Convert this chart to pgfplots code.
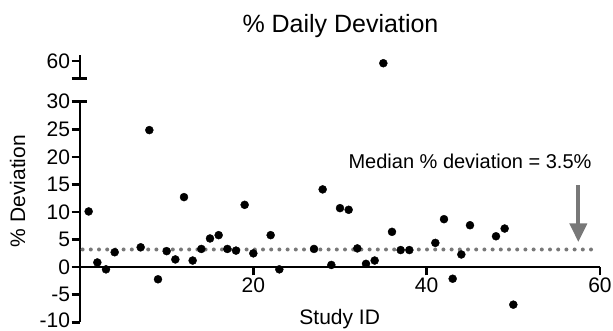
\documentclass[border=0pt]{standalone}
\usepackage{fontspec}
\setmainfont{Liberation Sans}
\usepackage{pgfplots}
\pgfplotsset{compat=1.18}
\usetikzlibrary{arrows.meta}
\definecolor{medgray}{RGB}{120,120,120}
\pgfplotsset{
  mystyle/.style={
    scale only axis, width=520pt,
    xmin=0, xmax=60,
    axis line style={-, line width=2.6pt},
    every inner x axis line/.append style={-, line width=2.6pt},
    every outer y axis line/.append style={-, line width=2.6pt},
    every outer x axis line/.append style={-, line width=2.6pt},
    tick style={black, line width=2.6pt},
    tick align=outside, major tick length=8.3pt,
    minor tick num=0,
    /pgf/number format/assume math mode=true,
    tick label style={font=\fontsize{21}{24}\selectfont},
    yticklabel style={inner xsep=1.5pt, inner ysep=0pt},
    xticklabel style={inner sep=2pt},
    clip=false,
  }
}
\begin{document}
\begin{tikzpicture}
\path[use as bounding box] (0,0) rectangle (613pt,331pt);
\begin{axis}[
  axis x line=middle, axis y line=left,
  mystyle,
  at={(80pt,8.7pt)}, anchor=south west,
  height=220.6pt,
  ymin=-10, ymax=30,
  xtick={20,40,60}, ytick={-5,0,...,30},
  extra y ticks={-10},
  extra y tick style={yticklabel style={yshift=2pt}},
]
\addplot[only marks, mark=*, mark size=4pt, black] coordinates {
(1,10.1) (2,0.85) (3,-0.4) (4,2.7) (7,3.6) (8,24.85) (9,-2.2) (10,2.9)
(11,1.4) (12,12.7) (13,1.2) (14,3.3) (15,5.2) (16,5.8) (17,3.3) (18,3.0)
(19,11.3) (20,2.5) (22,5.8) (23,-0.4) (27,3.3) (28,14.1) (29,0.4) (30,10.7)
(31,10.4) (32,3.4) (33,0.6) (34,1.2) (36,6.4) (37,3.1) (38,3.1) (41,4.4)
(42,8.7) (43,-2.1) (44,2.3) (45,7.6) (48,5.6) (49,7.0) (50,-6.8)
};
\addplot[medgray, line width=4pt, line cap=round, dash pattern=on 0pt off 8.2pt] coordinates {(0.3,3.2) (59.6,3.2)};
\draw[medgray, line width=4pt, -{Triangle[width=17pt,length=18.7pt]}] (axis cs:57.5,14.85) -- (axis cs:57.5,4.55);
\draw[line width=2.6pt] (axis cs:0,30) -- ([xshift=7.3pt]axis cs:0,30);
\end{axis}
\begin{axis}[
  axis x line=none, axis y line=left,
  mystyle,
  at={(80pt,252.7pt)}, anchor=south west,
  height=23.3pt,
  ymin=56.85, ymax=61.1,
  ytick={60},
]
\addplot[only marks, mark=*, mark size=4pt, black] coordinates {(35,59.6)};
\draw[line width=2.6pt] ([xshift=-8.3pt]axis cs:0,56.85) -- ([xshift=7.3pt]axis cs:0,56.85);
\end{axis}
\node[anchor=base, font=\fontsize{25}{30}\selectfont, inner sep=0pt] at (340.5pt,298pt) {\% Daily Deviation};
\node[anchor=base, font=\fontsize{21}{24}\selectfont, inner sep=0pt] at (339.7pt,6pt) {Study ID};
\node[anchor=base, rotate=90, font=\fontsize{21}{24}\selectfont, inner sep=0pt] at (25pt,140pt) {\% Deviation};
\node[anchor=base, font=\fontsize{20}{24}\selectfont, inner sep=0pt] at (470pt,162.7pt) {Median \% deviation = 3.5\%};
\end{tikzpicture}
\end{document}
